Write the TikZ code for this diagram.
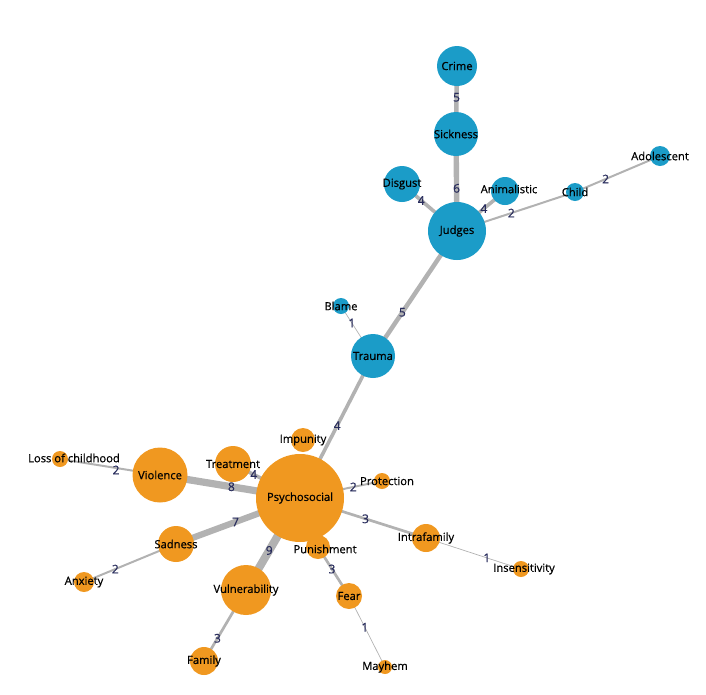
\documentclass[tikz,border=0pt]{standalone}
\usepackage{fontspec}
\setmainfont{Open Sans}
\newfontfamily\labelfont{Open Sans}[RawFeature={embolden=0.6}]
\usetikzlibrary{backgrounds}
\definecolor{topicblue}{RGB}{27,156,200}
\definecolor{topicorange}{RGB}{240,152,32}
\definecolor{edgegray}{RGB}{178,178,178}
\definecolor{weightnavy}{RGB}{40,44,92}
\begin{document}
\begin{tikzpicture}[x=1pt,y=-1pt]
    \useasboundingbox (0,0) rectangle (706,694);

    \tikzstyle{every label}=[inner sep=0pt,font=\labelfont\fontsize{11.2}{12}\selectfont]
    \tikzstyle{blue}=[circle,fill=topicblue,inner sep=0pt]
    \tikzstyle{orange}=[circle,fill=topicorange,inner sep=0pt]
    \tikzstyle{link}=[draw=edgegray]
    \tikzstyle{weight}=[text=weightnavy,inner sep=0pt,font=\labelfont\fontsize{12}{12}\selectfont]

    % blue topics
    \node[blue,minimum size=40pt,label={center:Crime}]  (crime) at (457,66) {};
    \node[blue,minimum size=44pt,label={center:Sickness}] (sickness) at (456,134) {};
    \node[blue,minimum size=36pt,label={center:Disgust}] (disgust) at (402,184) {};
    \node[blue,minimum size=28pt,label={[xshift=4pt,yshift=2pt]center:Animalistic}] (animalistic) at (505,191) {};
    \node[blue,minimum size=58pt,label={center:Judges}] (judges) at (457,231) {};
    \node[blue,minimum size=18pt,label={center:Child}] (child) at (575,192) {};
    \node[blue,minimum size=20pt,label={center:Adolescent}] (adolescent) at (660,156) {};
    \node[blue,minimum size=16pt,label={center:Blame}] (blame) at (341,306) {};
    \node[blue,minimum size=44pt,label={center:Trauma}] (trauma) at (373,356) {};

    % orange topics
    \node[orange,minimum size=24pt,label={center:Impunity}] (impunity) at (303,440) {};
    \node[orange,minimum size=36pt,label={center:Treatment}] (treatment) at (233,464) {};
    \node[orange,minimum size=55pt,label={center:Violence}] (violence) at (160,475) {};
    \node[orange,minimum size=16pt,label={[xshift=14pt,yshift=1pt]center:Loss of childhood}] (loss) at (60,459) {};
    \node[orange,minimum size=88pt,label={center:Psychosocial}] (psycho) at (300,498) {};
    \node[orange,minimum size=16pt,label={[xshift=5pt]center:Protection}] (protection) at (382,481) {};
    \node[orange,minimum size=28pt,label={center:Intrafamily}] (intrafamily) at (426,538) {};
    \node[orange,minimum size=16pt,label={[xshift=3pt]center:Insensitivity}] (insensitivity) at (521,569) {};
    \node[orange,minimum size=36pt,label={center:Sadness}] (sadness) at (176,544) {};
    \node[orange,minimum size=20pt,label={center:Anxiety}] (anxiety) at (84,582) {};
    \node[orange,minimum size=50pt,label={center:Vulnerability}] (vulnerability) at (246,590) {};
    \node[orange,minimum size=24pt,label={[xshift=7pt,yshift=-2pt]center:Punishment}] (punishment) at (318,547) {};
    \node[orange,minimum size=26pt,label={center:Fear}] (fear) at (349,596) {};
    \node[orange,minimum size=28pt,label={center:Family}] (family) at (204,661) {};
    \node[orange,minimum size=14pt,label={center:Mayhem}] (mayhem) at (385,667) {};

    \begin{scope}[on background layer]
    \draw [link, line width=4.5pt] (crime.center) -- node[weight,pos=0.46] {5} (sickness.center);
    \draw [link, line width=5.4pt] (sickness.center) -- node[weight,pos=0.56] {6} (judges.center);
    \draw [link, line width=3.6pt] (disgust.center) -- node[weight,pos=0.35] {4} (judges.center);
    \draw [link, line width=3.6pt] (animalistic.center) -- node[weight,pos=0.44] {4} (judges.center);
    \draw [link, line width=2pt] (judges.center) -- node[weight,pos=0.46] {2} (child.center);
    \draw [link, line width=2pt] (child.center) -- node[weight,pos=0.36] {2} (adolescent.center);
    \draw [link, line width=4.5pt] (judges.center) -- node[weight,pos=0.65] {5} (trauma.center);
    \draw [link, line width=0.7pt] (trauma.center) -- node[weight,pos=0.66] {1} (blame.center);
    \draw [link, line width=3.6pt] (trauma.center) -- node[weight,pos=0.49] {4} (psycho.center);

    \draw [link, line width=3.6pt] (psycho.center) -- node[weight,pos=0.69] {4} (treatment.center);
    \draw [link, line width=7.2pt] (psycho.center) -- node[weight,pos=0.49] {8} (violence.center);
    \draw [link, line width=2pt] (violence.center) -- node[weight,pos=0.44,yshift=-2pt] {2} (loss.center);
    \draw [link, line width=6.3pt] (psycho.center) -- node[weight,pos=0.52] {7} (sadness.center);
    \draw [link, line width=2pt] (sadness.center) -- node[weight,pos=0.66] {2} (anxiety.center);
    \draw [link, line width=8.1pt] (psycho.center) -- node[weight,pos=0.57] {9} (vulnerability.center);
    \draw [link, line width=2.7pt] (vulnerability.center) -- node[weight,pos=0.68] {3} (family.center);
    \draw [link, line width=2pt] (psycho.center) -- node[weight,pos=0.65] {2} (protection.center);
    \draw [link, line width=2.7pt] (psycho.center) -- node[weight,pos=0.52] {3} (intrafamily.center);
    \draw [link, line width=0.7pt] (intrafamily.center) -- node[weight,pos=0.64] {1} (insensitivity.center);
    \draw [link, line width=2.7pt] (punishment.center) -- node[weight,pos=0.45] {3} (fear.center);
    \draw [link, line width=0.7pt] (fear.center) -- node[weight,pos=0.44] {1} (mayhem.center);
    \end{scope}

  \end{tikzpicture}
\end{document}
